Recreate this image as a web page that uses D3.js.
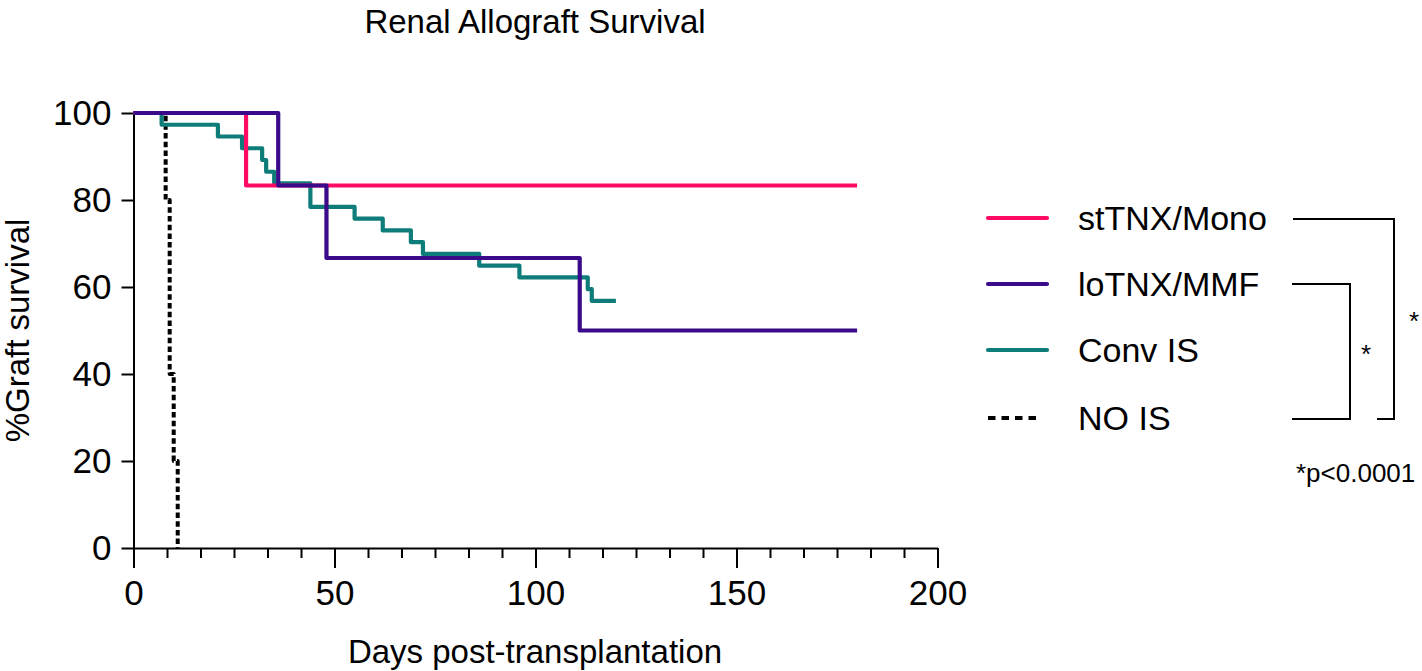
<!DOCTYPE html>
<html>
<head>
<meta charset="utf-8">
<script src="https://cdn.jsdelivr.net/npm/d3@7"></script>
<style>
  html, body { margin: 0; padding: 0; background: #fff; }
  svg { display: block; }
  text { font-family: "Liberation Sans", Arial, Helvetica, sans-serif; fill: #000; }
</style>
</head>
<body>
<svg id="chart" width="1422" height="671"></svg>
<script>
// ---- Data (Kaplan–Meier step points) ----
const seriesNames = ["stTNX/Mono", "loTNX/MMF", "Conv IS", "NO IS"];
const seriesColors = ["#FF0A64", "#3A0A8A", "#0E7C78", "#000000"];

const stTNXDays = [0, 28, 180];
const stTNXSurv = [100, 83.33, 83.33];

const loTNXDays = [0, 36, 48, 111, 180];
const loTNXSurv = [100, 83.33, 66.67, 50, 50];

const convDays = [0, 7, 21, 27, 32, 33, 35, 44, 55, 62, 69, 72, 86, 96, 113, 114, 120];
const convSurv = [100, 97.3, 94.6, 91.9, 89.2, 86.5, 83.8, 78.4, 75.7, 73.0, 70.3, 67.6, 64.9, 62.2, 59.5, 56.8, 56.8];

const noISDays = [0, 8, 9, 10, 11];
const noISSurv = [100, 80, 40, 20, 0];

const xTicks = [0, 50, 100, 150, 200];
const yTicks = [0, 20, 40, 60, 80, 100];
const xMinorCount = 24;

const titleText = "Renal Allograft Survival";
const xTitle = "Days post-transplantation";
const yTitle = "%Graft survival";
const pText = "*p<0.0001";

// ---- Layout ----
const svg = d3.select("#chart");
const x = d3.scaleLinear().domain([0, 200]).range([133.5, 937.5]);
const y = d3.scaleLinear().domain([0, 100]).range([548, 113]);

const zip = (a, b) => a.map((d, i) => [d, b[i]]);
const data = [
  zip(stTNXDays, stTNXSurv),
  zip(loTNXDays, loTNXSurv),
  zip(convDays, convSurv),
  zip(noISDays, noISSurv)
];

// Title
svg.append("text").attr("x", 535).attr("y", 33).attr("text-anchor", "middle")
  .attr("font-size", 33).text(titleText);

// Y axis
const yAxis = d3.axisLeft(y).tickValues(yTicks).tickSize(12).tickPadding(10).tickSizeOuter(0);
const gy = svg.append("g").attr("transform", `translate(${x(0)},0)`).call(yAxis);
gy.select(".domain").attr("stroke", "#000").attr("stroke-width", 2);
gy.selectAll(".tick line").attr("stroke", "#000").attr("stroke-width", 2);
gy.selectAll(".tick text").attr("font-size", 35).attr("font-family", "Liberation Sans, Arial, sans-serif").attr("fill", "#000");

// X axis minor ticks
const minorVals = d3.range(0, xMinorCount + 1).map(i => i * 200 / xMinorCount);
const xMinor = d3.axisBottom(x).tickValues(minorVals).tickSize(10).tickFormat("").tickSizeOuter(0);
const gxm = svg.append("g").attr("transform", `translate(0,${y(0)})`).call(xMinor);
gxm.select(".domain").attr("stroke", "#000").attr("stroke-width", 2);
gxm.selectAll(".tick line").attr("stroke", "#000").attr("stroke-width", 2);

// X axis major
const xAxis = d3.axisBottom(x).tickValues(xTicks).tickSize(20).tickPadding(12).tickSizeOuter(0);
const gx = svg.append("g").attr("transform", `translate(0,${y(0)})`).call(xAxis);
gx.select(".domain").remove();
gx.selectAll(".tick line").attr("stroke", "#000").attr("stroke-width", 2);
gx.selectAll(".tick text").attr("font-size", 35).attr("font-family", "Liberation Sans, Arial, sans-serif").attr("fill", "#000");

// Axis titles
svg.append("text").attr("x", 535).attr("y", 663).attr("text-anchor", "middle")
  .attr("font-size", 33).text(xTitle);
svg.append("text").attr("transform", `translate(29,${(y(0) + y(100)) / 2}) rotate(-90)`)
  .attr("text-anchor", "middle").attr("font-size", 33).text(yTitle);

// Lines
const line = d3.line().x(d => x(d[0])).y(d => y(d[1])).curve(d3.curveStepAfter);
const drawOrder = [3, 2, 0, 1];
drawOrder.forEach(i => {
  const p = svg.append("path").datum(data[i]).attr("d", line)
    .attr("fill", "none").attr("stroke", seriesColors[i])
    .attr("stroke-width", 4.2).attr("stroke-linejoin", "round");
  if (i === 3) p.attr("stroke-width", 4).attr("stroke-dasharray", "5.5,3.2");
});

// Legend
const legY = [218, 284, 350, 418];
seriesNames.forEach((n, i) => {
  const l = svg.append("line").attr("x1", 988).attr("x2", i === 3 ? 1040 : 1047)
    .attr("y1", legY[i]).attr("y2", legY[i])
    .attr("stroke", seriesColors[i]).attr("stroke-width", 4.2);
  if (i === 3) l.attr("stroke-dasharray", "7.5,6");
  else l.attr("stroke-linecap", "round");
  svg.append("text").attr("x", 1078).attr("y", legY[i] + 12).attr("font-size", 34).text(n);
});

// Significance brackets
const br = svg.append("g").attr("fill", "none").attr("stroke", "#000").attr("stroke-width", 2);
br.append("path").attr("d", `M1293,${legY[0] + 1}H1394V419H1377`);
br.append("path").attr("d", `M1292,${legY[1]}H1350V419H1292`);
svg.append("text").attr("x", 1366).attr("y", 363).attr("text-anchor", "middle").attr("font-size", 26).text("*");
svg.append("text").attr("x", 1414).attr("y", 330).attr("text-anchor", "middle").attr("font-size", 26).text("*");
svg.append("text").attr("x", 1296).attr("y", 482).attr("font-size", 26).text(pText);
</script>
</body>
</html>
